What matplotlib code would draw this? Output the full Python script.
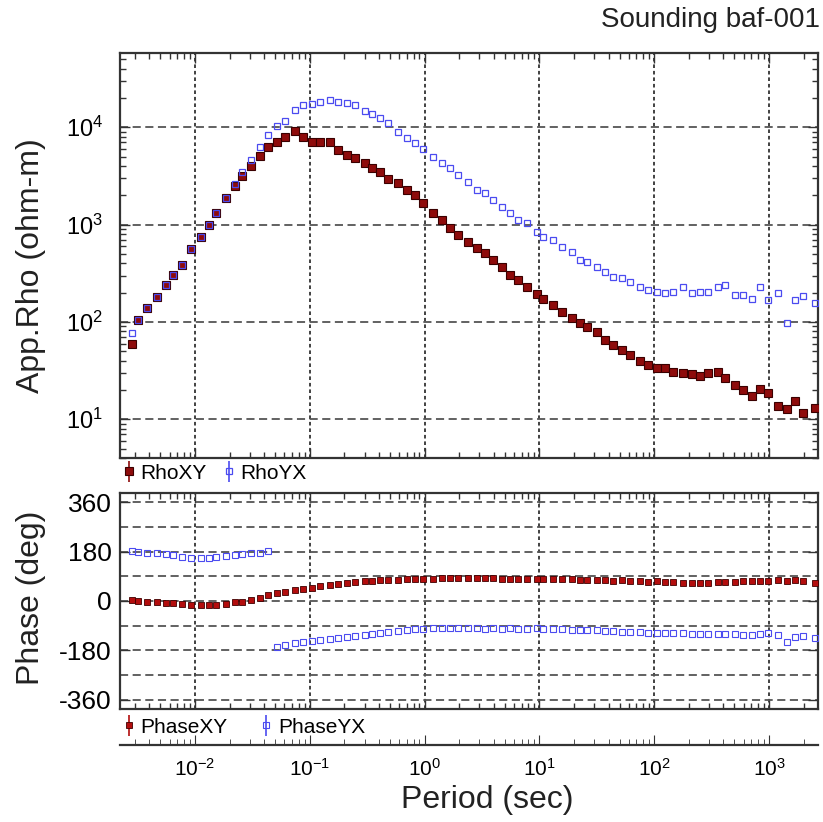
import numpy as np
import matplotlib.pyplot as plt
from matplotlib.ticker import LogLocator, NullFormatter, FixedLocator

plt.rcParams['font.family'] = ['Liberation Sans', 'DejaVu Sans']
plt.rcParams['mathtext.fontset'] = 'custom'
plt.rcParams['mathtext.rm'] = 'Liberation Sans'
plt.rcParams['mathtext.it'] = 'Liberation Sans:italic'
plt.rcParams['mathtext.bf'] = 'Liberation Sans:bold'

# periods (sec)
period = [0.00281, 0.00321, 0.00379, 0.00470, 0.00558, 0.00647, 0.00766, 0.00916,
          0.0113, 0.0131, 0.0152, 0.0186, 0.0223, 0.0258, 0.0305, 0.0368,
          0.0435, 0.0514, 0.0608, 0.0743, 0.0877, 0.104, 0.123, 0.150,
          0.177, 0.209, 0.248, 0.303, 0.347, 0.409, 0.483, 0.590,
          0.698, 0.824, 0.975, 1.19, 1.41, 1.66, 1.97, 2.40,
          2.84, 3.36, 3.96, 4.69, 5.55, 6.55, 7.74, 9.46,
          10.8, 13.2, 15.6, 19.1, 22.6, 25.8, 31.6, 37.2,
          44.1, 52.1, 61.5, 75.2, 88.9, 105, 124, 147,
          179, 212, 251, 296, 361, 414, 506, 597,
          706, 836, 986, 1205, 1426, 1683, 1991, 2518]

rho_xy = [60, 104, 138, 182, 239, 303, 385, 557,
          752, 991, 1306, 1862, 2512, 3184, 4000, 5105,
          6324, 7112, 8000, 9226, 8000, 7015, 7015, 7015,
          5848, 5188, 4797, 4266, 3784, 3499, 2924, 2661,
          2270, 2014, 1656, 1306, 1114, 916, 782, 667,
          570, 507, 433, 369, 303, 270, 230, 194,
          171, 149, 127, 111, 96.8, 89.3, 79.4, 65.2,
          57.9, 51.4, 45.7, 39.9, 36.1, 33.3, 33.3, 30.8,
          29.6, 29.2, 28.0, 29.6, 30.8, 26.3, 22.4, 20.0,
          17.3, 20.3, 18.7, 13.7, 12.9, 15.4, 11.7, 13.2]

rho_yx = [77, 104, 138, 182, 239, 303, 385, 557,
          752, 991, 1306, 1862, 2630, 3499, 4613, 6324,
          8337, 10400, 11700, 15070, 16940, 17340, 18070, 19100,
          18320, 17660, 16940, 14830, 13710, 12360, 10990, 9016,
          7709, 6855, 5943, 4900, 4250, 3790, 3240, 2760,
          2270, 2099, 1791, 1528, 1306, 1114, 1030, 845,
          752, 695, 593, 527, 433, 416, 369, 328,
          292, 281, 259, 230, 213, 204, 197, 204,
          230, 197, 204, 204, 230, 239, 189, 189,
          171, 230, 168, 200, 98, 168, 185, 155]

phase_xy = [3, 1, -2, -4, -7, -9, -11, -13,
            -15, -15, -14, -11, -5, -2, 5, 12,
            22, 28, 34, 39, 45, 49, 55, 58,
            62, 65, 68, 71, 73, 75, 77, 78,
            79, 80, 81, 81, 82, 82, 82, 82,
            82, 82, 82, 81, 81, 81, 81, 81,
            80, 80, 80, 79, 78, 78, 77, 76,
            74, 75, 73, 72, 70, 71, 69, 68,
            66, 67, 65, 66, 68, 70, 69, 72,
            71, 73, 72, 75, 73, 76, 74, 67]

phase_yx = [182, 180, 176, 173, 170, 166, 161, 158,
            158, 158, 160, 164, 166, 170, 173, 176,
            182, -169, -160, -152, -148, -145, -141, -138,
            -135, -132, -129, -124, -119, -115, -111, -108,
            -105, -103, -101, -100, -99, -99, -100, -99,
            -100, -101, -100, -101, -100, -102, -101, -100,
            -101, -102, -103, -104, -105, -106, -107, -108,
            -110, -111, -112, -114, -115, -116, -117, -118,
            -118, -119, -120, -120, -121, -120, -121, -122,
            -122, -121, -118, -124, -151, -130, -128, -134]

decades = [1e-2, 1e-1, 1e0, 1e1, 1e2, 1e3]
xlim = (0.00222, 2670)
no_err = np.zeros(len(period))

fig = plt.figure(figsize=(8.23, 8.22), dpi=100)
L, W = 120 / 823, 698 / 823
ax1 = fig.add_axes([L, 1 - 458 / 822, W, 405 / 822])
ax2 = fig.add_axes([L, 1 - 709 / 822, W, 216 / 822])
ax3 = fig.add_axes([L, 1 - 745 / 822, W, 0.0005])

red_dark = '#8e0b0b'
red = '#b30d0d'
blue = '#4b4bf0'

# apparent resistivity
h_xy = ax1.errorbar(period, rho_xy, yerr=no_err, fmt='s', ms=5.2, mfc=red_dark,
                    mec='#3a0000', mew=0.8, ecolor=red_dark, elinewidth=1.2, capsize=0,
                    label='RhoXY', zorder=3)
h_yx = ax1.errorbar(period, rho_yx, yerr=no_err, fmt='s', ms=4.6, mfc='none',
                    mec=blue, mew=0.9, ecolor=blue, elinewidth=1.2, capsize=0,
                    label='RhoYX', zorder=4)
ax1.set_xscale('log')
ax1.set_yscale('log')
ax1.set_xlim(*xlim)
ax1.set_ylim(4, 58000)
ax1.yaxis.set_major_locator(FixedLocator([10, 100, 1000, 10000]))
ax1.yaxis.set_minor_locator(LogLocator(base=10, subs=np.arange(2, 10), numticks=20))
ax1.yaxis.set_minor_formatter(NullFormatter())

# phase
p_xy = ax2.errorbar(period, phase_xy, yerr=no_err, fmt='s', ms=4.1, mfc=red,
                    mec='#400000', mew=0.6, ecolor=red, elinewidth=1.2, capsize=0,
                    label='PhaseXY', zorder=3)
p_yx = ax2.errorbar(period, phase_yx, yerr=no_err, fmt='s', ms=3.8, mfc='none',
                    mec=blue, mew=0.8, ecolor=blue, elinewidth=1.2, capsize=0,
                    label='PhaseYX', zorder=4)
ax2.set_xscale('log')
ax2.set_xlim(*xlim)
ax2.set_ylim(-393, 393)
ax2.yaxis.set_major_locator(FixedLocator([-360, -180, 0, 180, 360]))
ax2.yaxis.set_minor_locator(FixedLocator([-270, -90, 90, 270]))
ax2.set_yticklabels(['-360', '-180', '0', '180', '360'])

for ax in (ax1, ax2, ax3):
    ax.xaxis.set_major_locator(FixedLocator(decades))
    ax.xaxis.set_minor_locator(LogLocator(base=10, subs=np.arange(2, 10), numticks=20))
    ax.xaxis.set_minor_formatter(NullFormatter())

for ax in (ax1, ax2):
    ax.tick_params(which='both', direction='in', top=True, right=True,
                   labelbottom=False, width=1.0, color='#333333')
    ax.tick_params(which='major', length=7)
    ax.tick_params(which='minor', length=4)
    ax.grid(True, which='major', axis='x', color='#333333', lw=1.3, ls=(0, (2, 1.6)))
    for s in ax.spines.values():
        s.set_linewidth(1.6)
        s.set_color('#333333')

ax1.grid(True, which='major', axis='y', color='#555555', lw=1.3, ls=(0, (4.5, 2.5)))
ax2.grid(True, which='both', axis='y', color='#555555', lw=1.3, ls=(0, (4.5, 2.5)))
ax1.tick_params(axis='y', which='major', labelsize=17, pad=12)
ax2.tick_params(axis='y', which='major', labelsize=19, pad=6)
ax2.tick_params(axis='y', which='minor', length=0)

# separate period axis at the bottom
ax3.set_xscale('log')
ax3.set_xlim(*xlim)
ax3.xaxis.set_major_locator(FixedLocator(decades))
ax3.set_yticks([])
ax3.patch.set_visible(False)
for side in ('top', 'left', 'right'):
    ax3.spines[side].set_visible(False)
ax3.spines['bottom'].set_linewidth(1.6)
ax3.spines['bottom'].set_color('#333333')
ax3.tick_params(axis='x', which='both', direction='in', labelsize=15, pad=9,
                color='#333333')
ax3.tick_params(axis='x', which='major', length=7)
ax3.tick_params(axis='x', which='minor', length=4)

# legends below each panel
fig.legend([h_xy, h_yx], ['RhoXY', 'RhoYX'], loc='center left',
           bbox_to_anchor=(124 / 823, 1 - 473 / 822), ncol=2, frameon=False,
           fontsize=15, handlelength=0.5, handletextpad=0.3, columnspacing=0.8,
           borderpad=0, borderaxespad=0)
fig.legend([p_xy, p_yx], ['PhaseXY', 'PhaseYX'], loc='center left',
           bbox_to_anchor=(124 / 823, 1 - 727 / 822), ncol=2, frameon=False,
           fontsize=15, handlelength=0.5, handletextpad=0.3, columnspacing=1.6,
           borderpad=0, borderaxespad=0)

fig.text(31 / 823, 1 - 266 / 822, 'App.Rho (ohm-m)', rotation=90, ha='center',
         va='center', fontsize=23, color='#222222')
fig.text(31 / 823, 1 - 598 / 822, 'Phase (deg)', rotation=90, ha='center',
         va='center', fontsize=23, color='#222222')
fig.text(487 / 823, 1 - 800 / 822, 'Period (sec)', ha='center', va='center',
         fontsize=23, color='#222222')
fig.text(820 / 823, 1 - 20 / 822, 'Sounding baf-001', ha='right', va='center',
         fontsize=20, color='#222222')

fig.savefig('out.png', dpi=100)
